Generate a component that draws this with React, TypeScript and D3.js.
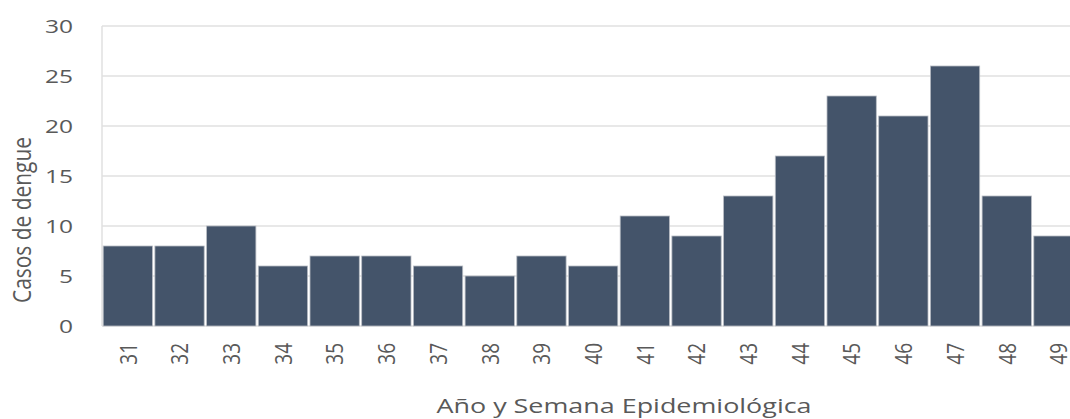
import React from "react";
import * as d3 from "d3";

const weeks = ["31","32","33","34","35","36","37","38","39","40","41","42","43","44","45","46","47","48","49"];
const cases = [8, 8, 10, 6, 7, 7, 6, 5, 7, 6, 11, 9, 13, 17, 23, 21, 26, 13, 9];
const yTicks = [0, 5, 10, 15, 20, 25, 30];
const yTitle = "Casos de dengue";
const xTitle = "Año y Semana Epidemiológica";

const W = 1070;
const H = 419;
const left = 102;
const top = 26;
const bottom = 326;
const bandW = 51.7;
const font = "'Open Sans', 'Segoe UI', sans-serif";
const textColor = "#595959";
const sx = 1.29;

export default function App() {
  const x = d3.scaleBand<string>().domain(weeks).range([left, left + bandW * weeks.length]).padding(0);
  const y = d3.scaleLinear().domain([0, 30]).range([bottom, top]);
  const bw = x.bandwidth();

  return (
    <svg width={W} height={H} style={{ position: "absolute", left: 0, top: 0, background: "#fff" }}>
      {/* horizontal gridlines */}
      {yTicks.map((t) => (
        <line key={"g" + t} x1={left} x2={W} y1={y(t)} y2={y(t)} stroke="#e0e0e0" strokeWidth={1.5} />
      ))}
      <line x1={left} x2={left} y1={y(30)} y2={y(0)} stroke="#e0e0e0" strokeWidth={1.5} />

      {/* bars */}
      {weeks.map((w, i) => (
        <rect
          key={w}
          x={(x(w) as number) + 1.2}
          y={y(cases[i])}
          width={bw - 2.4}
          height={y(0) - y(cases[i])}
          fill="#44546A"
          stroke="#b8bcc4"
          strokeWidth={0.8}
        />
      ))}

      {/* y tick labels */}
      {yTicks.map((t) => (
        <text
          key={"t" + t}
          transform={`translate(73,${y(t)}) scale(${sx},1)`}
          textAnchor="end"
          dy="0.36em"
          fontFamily={font}
          fontSize={19}
          fill={textColor}
        >
          {t}
        </text>
      ))}

      {/* x tick labels, rotated */}
      {weeks.map((w) => (
        <text
          key={"x" + w}
          transform={`translate(${(x(w) as number) + bw / 2},343) scale(${sx},1) rotate(-90)`}
          textAnchor="end"
          dy="0.36em"
          fontFamily={font}
          fontSize={19}
          fill={textColor}
        >
          {w}
        </text>
      ))}

      {/* axis titles */}
      <text
        transform={`translate(22,220) scale(${sx},1) rotate(-90)`}
        textAnchor="middle"
        dy="0.36em"
        fontFamily={font}
        fontSize={20}
        fill={textColor}
        textLength={166}
        lengthAdjust="spacingAndGlyphs"
      >
        {yTitle}
      </text>
      <text
        x={624}
        y={413}
        textAnchor="middle"
        fontFamily={font}
        fontSize={20}
        fill={textColor}
        textLength={375}
        lengthAdjust="spacingAndGlyphs"
      >
        {xTitle}
      </text>
    </svg>
  );
}
